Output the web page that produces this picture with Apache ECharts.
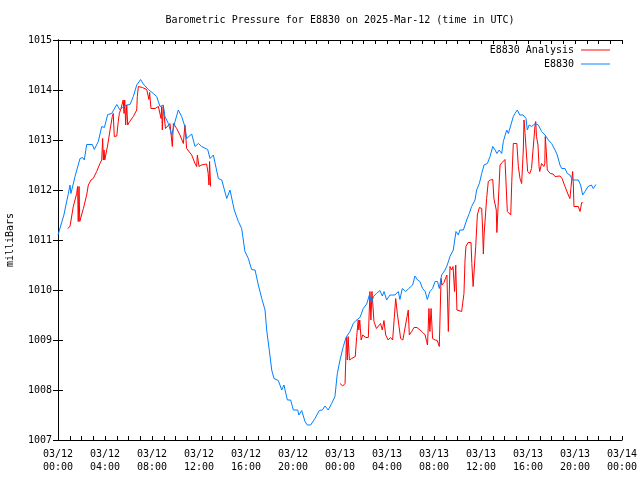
<!DOCTYPE html>
<html>
<head>
<meta charset="utf-8">
<script src="https://cdn.jsdelivr.net/npm/echarts@6/dist/echarts.min.js"></script>
<style>html,body{margin:0;padding:0;background:#fff;}#chart{width:640px;height:480px;}</style>
</head>
<body>
<div id="chart"></div>
<script>
// Hours since 2025-03-12 00:00 UTC, pressure in millibars
const e8830 = [[0,1011.1],[0.09,1011.13],[0.5,1011.5],[0.88,1011.93],[1.02,1012.1],[1.1,1011.93],[1.45,1012.27],[1.87,1012.63],[2.1,1012.65],[2.24,1012.6],[2.44,1012.91],[2.92,1012.91],[3.09,1012.81],[3.43,1012.97],[3.72,1013.27],[3.85,1013.3],[3.95,1013.25],[4.23,1013.51],[4.57,1013.53],[5.0,1013.71],[5.28,1013.6],[5.55,1013.67],[5.85,1013.7],[6.13,1013.71],[6.41,1013.87],[6.7,1014.1],[7.03,1014.21],[7.26,1014.12],[7.69,1014.01],[8.11,1013.93],[8.4,1013.87],[8.68,1013.67],[8.96,1013.7],[9.1,1013.47],[9.39,1013.33],[9.68,1013.1],[9.96,1013.37],[10.24,1013.6],[10.52,1013.47],[10.8,1013.27],[10.95,1013.03],[11.38,1013.12],[11.66,1012.87],[11.95,1012.93],[12.23,1012.87],[12.74,1012.81],[12.94,1012.63],[13.22,1012.7],[13.65,1012.23],[13.94,1012.2],[14.36,1011.83],[14.64,1012.0],[15.0,1011.6],[15.35,1011.37],[15.63,1011.23],[15.91,1010.77],[16.2,1010.63],[16.48,1010.41],[16.77,1010.4],[17.05,1010.1],[17.34,1009.83],[17.62,1009.6],[17.76,1009.2],[17.98,1008.8],[18.19,1008.4],[18.38,1008.23],[18.75,1008.19],[19.04,1008.0],[19.23,1008.1],[19.52,1007.8],[19.8,1007.8],[20.03,1007.6],[20.4,1007.6],[20.5,1007.5],[20.74,1007.59],[21.02,1007.37],[21.22,1007.3],[21.5,1007.3],[21.87,1007.43],[22.24,1007.59],[22.5,1007.6],[22.72,1007.68],[23.0,1007.6],[23.29,1007.73],[23.57,1007.87],[23.77,1008.33],[24.0,1008.6],[24.28,1008.87],[24.51,1009.05],[24.85,1009.17],[25.13,1009.33],[25.36,1009.39],[25.7,1009.45],[25.98,1009.63],[26.27,1009.72],[26.5,1009.9],[26.7,1009.75],[26.85,1009.87],[27.1,1009.93],[27.4,1009.99],[27.6,1009.88],[27.75,1009.97],[27.97,1009.8],[28.25,1009.9],[28.68,1009.9],[28.96,1009.97],[29.1,1009.81],[29.3,1010.03],[29.6,1009.97],[29.85,1010.03],[30.18,1010.1],[30.38,1010.28],[30.6,1010.2],[30.8,1010.17],[31.03,1010.03],[31.25,1009.97],[31.43,1009.81],[31.65,1009.97],[31.88,1010.03],[32.09,1010.17],[32.3,1010.17],[32.45,1010.03],[32.65,1010.3],[32.94,1010.4],[33.13,1010.5],[33.36,1010.67],[33.64,1010.8],[33.87,1011.17],[34.07,1011.1],[34.2,1011.2],[34.5,1011.2],[34.64,1011.23],[34.78,1011.4],[35.0,1011.53],[35.2,1011.67],[35.49,1011.8],[35.63,1012.0],[35.86,1012.13],[36.06,1012.33],[36.26,1012.5],[36.54,1012.53],[36.77,1012.67],[37.0,1012.87],[37.2,1012.8],[37.35,1012.73],[37.55,1012.8],[37.76,1012.73],[37.9,1012.97],[38.19,1013.2],[38.33,1013.13],[38.47,1013.13],[38.75,1013.47],[38.89,1013.53],[39.09,1013.6],[39.3,1013.5],[39.58,1013.5],[39.83,1013.43],[39.94,1013.2],[40.1,1013.3],[40.32,1013.27],[40.6,1013.33],[40.88,1013.3],[41.16,1013.17],[41.45,1013.1],[41.73,1013.0],[42.01,1012.93],[42.3,1012.8],[42.49,1012.7],[42.72,1012.5],[42.87,1012.43],[43.15,1012.43],[43.35,1012.33],[43.57,1012.3],[43.8,1012.2],[44.0,1012.2],[44.28,1012.2],[44.48,1012.1],[44.65,1011.9],[44.85,1011.97],[45.11,1012.07],[45.4,1012.1],[45.55,1012.03],[45.79,1012.11]];

const analysisMorning = [[0.82,1011.23],[1.02,1011.27],[1.3,1011.67],[1.59,1011.93],[1.67,1012.07],[1.72,1011.37],[1.79,1012.07],[1.85,1011.37],[1.96,1011.4],[2.16,1011.63],[2.44,1011.9],[2.58,1012.1],[2.81,1012.2],[3.0,1012.23],[3.29,1012.37],[3.57,1012.53],[3.72,1012.6],[3.8,1013.03],[3.86,1012.6],[3.92,1012.8],[3.98,1012.6],[4.23,1012.9],[4.43,1013.2],[4.62,1013.47],[4.7,1013.53],[4.79,1013.07],[5.0,1013.08],[5.13,1013.37],[5.22,1013.53],[5.36,1013.63],[5.45,1013.6],[5.55,1013.8],[5.62,1013.53],[5.68,1013.8],[5.76,1013.3],[5.85,1013.7],[5.93,1013.3],[6.1,1013.37],[6.41,1013.47],[6.7,1013.6],[6.75,1013.87],[6.84,1014.07],[7.18,1014.05],[7.55,1014.01],[7.68,1014.01],[7.74,1013.81],[7.8,1013.95],[7.91,1013.63],[7.97,1013.6],[8.26,1013.63],[8.54,1013.67],[8.68,1013.67],[8.77,1013.43],[8.82,1013.67],[8.88,1013.2],[8.95,1013.67],[9.05,1013.63],[9.15,1013.23],[9.3,1013.27],[9.53,1013.33],[9.65,1013.3],[9.73,1012.87],[9.82,1013.33],[9.96,1013.33],[10.1,1013.23],[10.38,1013.1],[10.67,1012.93],[10.8,1013.3],[10.95,1012.83],[11.1,1012.83],[11.38,1012.7],[11.66,1012.53],[11.8,1012.47],[11.86,1012.7],[11.94,1012.7],[12.0,1012.47],[12.2,1012.5],[12.65,1012.52],[12.78,1012.33],[12.85,1012.1],[12.9,1012.57],[12.99,1012.07]];

const analysisLater = [[24.0,1008.13],[24.23,1008.08],[24.43,1008.13],[24.5,1008.13],[24.55,1009.05],[24.62,1008.6],[24.69,1009.07],[24.8,1008.6],[25.0,1008.63],[25.3,1008.67],[25.42,1009.07],[25.55,1009.4],[25.6,1009.2],[25.68,1009.4],[25.8,1009.0],[25.93,1009.1],[26.2,1009.05],[26.41,1009.05],[26.55,1009.97],[26.63,1009.4],[26.72,1009.97],[26.89,1009.37],[27.1,1009.23],[27.26,1009.23],[27.45,1009.33],[27.6,1009.2],[27.74,1009.39],[27.89,1009.1],[28.1,1009.0],[28.3,1009.05],[28.48,1009.0],[28.62,1009.03],[28.74,1009.83],[28.88,1009.53],[29.0,1009.5],[29.16,1009.03],[29.35,1009.0],[29.5,1009.2],[29.67,1009.17],[29.81,1009.6],[29.9,1009.1],[30.1,1009.17],[30.3,1009.25],[30.55,1009.25],[30.81,1009.2],[31.05,1009.15],[31.25,1009.1],[31.37,1008.97],[31.45,1008.9],[31.57,1009.63],[31.65,1009.17],[31.75,1009.63],[31.88,1009.03],[32.1,1009.0],[32.28,1008.99],[32.45,1008.87],[32.6,1010.23],[32.68,1010.1],[32.85,1010.15],[33.0,1010.25],[33.1,1010.3],[33.22,1009.17],[33.36,1010.47],[33.5,1010.4],[33.62,1010.47],[33.75,1009.97],[33.85,1010.5],[33.95,1009.6],[34.07,1009.6],[34.35,1009.57],[34.55,1009.93],[34.64,1010.6],[34.72,1010.87],[34.9,1010.95],[35.15,1010.95],[35.22,1010.53],[35.33,1010.07],[35.45,1010.07],[35.55,1010.87],[35.69,1011.5],[35.86,1011.65],[36.06,1011.63],[36.14,1011.2],[36.2,1010.72],[36.26,1011.1],[36.33,1011.07],[36.48,1011.83],[36.62,1012.17],[36.8,1012.2],[37.0,1012.21],[37.1,1011.83],[37.3,1011.6],[37.35,1011.15],[37.52,1011.13],[37.62,1012.5],[37.8,1012.55],[38.04,1012.61],[38.15,1012.6],[38.24,1011.57],[38.53,1011.5],[38.62,1012.17],[38.75,1012.93],[38.9,1012.95],[39.05,1012.93],[39.18,1012.47],[39.32,1012.23],[39.46,1012.13],[39.6,1012.8],[39.66,1013.4],[39.75,1013.13],[39.9,1013.13],[39.97,1012.37],[40.15,1012.33],[40.3,1012.43],[40.45,1012.47],[40.6,1013.3],[40.66,1013.37],[40.72,1013.07],[40.85,1012.9],[40.94,1012.47],[41.0,1012.37],[41.15,1012.53],[41.3,1012.53],[41.35,1012.47],[41.43,1012.53],[41.47,1013.07],[41.55,1012.8],[41.64,1012.4],[41.9,1012.33],[42.13,1012.32],[42.3,1012.27],[42.45,1012.3],[42.72,1012.28],[42.9,1012.23],[43.0,1012.2],[43.15,1012.07],[43.3,1012.03],[43.43,1011.9],[43.57,1011.83],[43.65,1012.03],[43.72,1012.2],[43.8,1012.37],[43.86,1012.1],[43.91,1011.67],[44.05,1011.68],[44.28,1011.67],[44.43,1011.57],[44.57,1011.75],[44.65,1011.75]];

const seriesNames = ['E8830 Analysis', 'E8830'];
const dayLabels = ['03/12', '03/13', '03/14'];
const titleText = 'Barometric Pressure for E8830 on 2025-Mar-12 (time in UTC)';

const FONT = 'DejaVu Sans Mono';
const analysis = analysisMorning.concat([[18, '-']], analysisLater);

function xLabel(v) {
  if (Math.round(v) % 4 !== 0) return '';
  const day = dayLabels[Math.floor(v / 24)];
  const hh = String(v % 24).padStart(2, '0');
  return day + '\n' + hh + ':00';
}

const chart = echarts.init(document.getElementById('chart'), null, {renderer: 'canvas'});
const axisLine = {show: true, lineStyle: {color: '#000', width: 1}};
chart.setOption({
  animation: false,
  backgroundColor: '#fff',
  title: {
    text: titleText, left: 340, top: 15, textAlign: 'center', padding: 0,
    textStyle: {fontFamily: FONT, fontSize: 10, fontWeight: 'normal', color: '#000'}
  },
  legend: {
    orient: 'vertical', right: 30, top: 45, align: 'right', padding: 0,
    itemWidth: 29, itemHeight: 10, itemGap: 4,
    textStyle: {fontFamily: FONT, fontSize: 10, color: '#000', padding: [0, 2, 0, 0]},
    data: seriesNames.map(n => ({name: n, icon: 'path://M0,0L30,0L30,1L0,1Z'}))
  },
  grid: {left: 58, right: 18, top: 40, bottom: 40, show: false, containLabel: false, outerBoundsMode: 'none'},
  xAxis: [{
    type: 'value', min: 0, max: 48, interval: 1,
    axisLine: axisLine,
    axisTick: {show: true, inside: true, length: 4, lineStyle: {color: '#000'}},
    axisLabel: {interval: 0, formatter: xLabel, fontFamily: FONT, fontSize: 10, color: '#000', lineHeight: 13, margin: 8, hideOverlap: false, showMinLabel: true, showMaxLabel: true},
    splitLine: {show: false}
  }, {
    type: 'value', min: 0, max: 48, interval: 1, position: 'top',
    axisLine: axisLine,
    axisTick: {show: true, inside: true, length: 4, lineStyle: {color: '#000'}},
    axisLabel: {show: false}, splitLine: {show: false}
  }],
  yAxis: [{
    type: 'value', min: 1007, max: 1015, interval: 1,
    name: 'milliBars', nameLocation: 'middle', nameGap: 43, nameRotate: 90,
    nameTextStyle: {fontFamily: FONT, fontSize: 10, color: '#000'},
    axisLine: axisLine,
    axisTick: {show: true, inside: true, length: 5, lineStyle: {color: '#000'}},
    axisLabel: {fontFamily: FONT, fontSize: 10, color: '#000', margin: 6, formatter: v => String(v)},
    splitLine: {show: false}
  }, {
    type: 'value', min: 1007, max: 1015, interval: 1, position: 'right',
    axisLine: axisLine,
    axisTick: {show: true, inside: true, length: 5, lineStyle: {color: '#000'}},
    axisLabel: {show: false}, splitLine: {show: false}
  }],
  series: [{
    name: seriesNames[0], type: 'line', data: analysis, symbol: 'none',
    connectNulls: false, lineStyle: {color: '#ff0000', width: 1}, itemStyle: {color: '#ff0000'}
  }, {
    name: seriesNames[1], type: 'line', data: e8830, symbol: 'none',
    lineStyle: {color: '#0080ff', width: 1}, itemStyle: {color: '#0080ff'}
  }]
});
</script>
</body>
</html>
